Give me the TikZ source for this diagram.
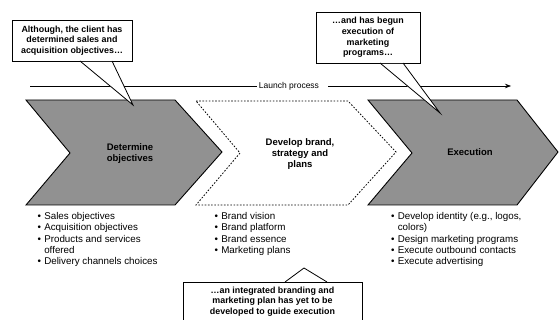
\documentclass[tikz,border=0pt]{standalone}
\usepackage{fontspec}
\setmainfont{Liberation Sans}
\usetikzlibrary{arrows.meta}
\definecolor{chevgray}{RGB}{145,145,145}
\definecolor{shadowgray}{RGB}{70,70,70}
\newcommand{\bi}{\makebox[6.8pt][l]{•}}
\begin{document}
\begin{tikzpicture}[x=1pt,y=-1pt,
  every node/.style={font=\fontsize{9.5}{10.5}\selectfont, inner sep=0pt, outer sep=0pt},
  chev/.style={draw=black, line width=0.9pt, fill=chevgray, line join=miter},
  dchev/.style={draw=black, line width=0.8pt, dash pattern=on 1.6pt off 1.6pt, fill=white},
  calloutbox/.style={draw=black, line width=0.8pt, fill=white},
  shadowbox/.style={fill=shadowgray},
  pointer/.style={draw=black, line width=0.8pt},
  ctext/.style={font=\bfseries\fontsize{8.9}{10.6}\selectfont, align=center},
  lbl/.style={font=\bfseries\fontsize{9.5}{10.8}\selectfont, align=center},
  ltext/.style={font=\fontsize{9.8}{11.25}\selectfont, align=left, anchor=north west},
  launchtext/.style={font=\fontsize{8.5}{10}\selectfont}
]
\useasboundingbox (0,0) rectangle (559,320);

% chevrons
\path[chev] (26,100) -- (175,100) -- (222,152) -- (175,205) -- (26,205) -- (70,153) -- cycle;
\node[lbl] (det) at (130,153.5) {Determine\\objectives};
\path[dchev] (196,101) -- (348,101) -- (396,152) -- (348,205) -- (196,205) -- (240,153) -- cycle;
\node[lbl] (dev) at (300,154) {Develop brand,\\strategy and\\plans};
\path[chev] (368,100) -- (517,100) -- (558,152) -- (517,205) -- (368,205) -- (412,153) -- cycle;
\node[lbl] (exe) at (470,152.5) {Execution};

% launch process line
\node[launchtext] (launch) at (289,86) {Launch process};
\coordinate (lstart) at (30,86);
\coordinate (lend) at (511,86);
\draw[line width=0.7pt] (lstart) -- ([xshift=-1.5pt]launch.west);
\draw[line width=0.7pt, -{Stealth[length=6pt,width=4.5pt]}] ([xshift=9pt]launch.east) -- (lend);

% callout 1
\fill[shadowbox] (13,21) rectangle (133,62);
\node[calloutbox, ctext, minimum width=120pt, minimum height=41pt] (c1) at (72,40.5)
  {Although, the client has\\determined sales and\\acquisition objectives…};
\coordinate (t1) at (133,105);
\fill[white] ([xshift=68pt,yshift=-1pt]c1.south west) -- (t1) -- ([xshift=100pt,yshift=-1pt]c1.south west) -- cycle;
\draw[pointer] ([xshift=68pt]c1.south west) -- (t1) -- ([xshift=100pt]c1.south west);

% callout 2
\fill[shadowbox] (317,13) rectangle (421,64);
\node[calloutbox, ctext, minimum width=104pt, minimum height=51pt] (c2) at (368,37.5)
  {…and has begun\\execution of\\marketing\\programs…};
\coordinate (t2) at (440,113);
\fill[white] ([xshift=64pt,yshift=-1pt]c2.south west) -- (t2) -- ([xshift=87pt,yshift=-1pt]c2.south west) -- cycle;
\draw[pointer] ([xshift=64pt]c2.south west) -- (t2) -- ([xshift=87pt]c2.south west);

% callout 3 (bottom)
\fill[shadowbox] (184,283) rectangle (363,322);
\node[calloutbox, ctext, minimum width=179pt, minimum height=39pt] (c3) at (272.5,301.5)
  {…an integrated branding and\\marketing plan has yet to be\\developed to guide execution};
\coordinate (t3) at (304,268);
\fill[white] ([xshift=102pt,yshift=1pt]c3.north west) -- (t3) -- ([xshift=144pt,yshift=1pt]c3.north west) -- cycle;
\draw[pointer] ([xshift=102pt]c3.north west) -- (t3) -- ([xshift=144pt]c3.north west);

% bullet lists
\node[ltext] (l1) at (37.5,212.5) {\bi Sales objectives\\\bi Acquisition objectives\\\bi Products and services\\\hspace*{6.8pt}offered\\\bi Delivery channels choices};
\node[ltext] (l2) at (214.5,212.5) {\bi Brand vision\\\bi Brand platform\\\bi Brand essence\\\bi Marketing plans};
\node[ltext] (l3) at (391,212.5) {\bi Develop identity (e.g., logos,\\\hspace*{6.8pt}colors)\\\bi Design marketing programs\\\bi Execute outbound contacts\\\bi Execute advertising};
\end{tikzpicture}
\end{document}
